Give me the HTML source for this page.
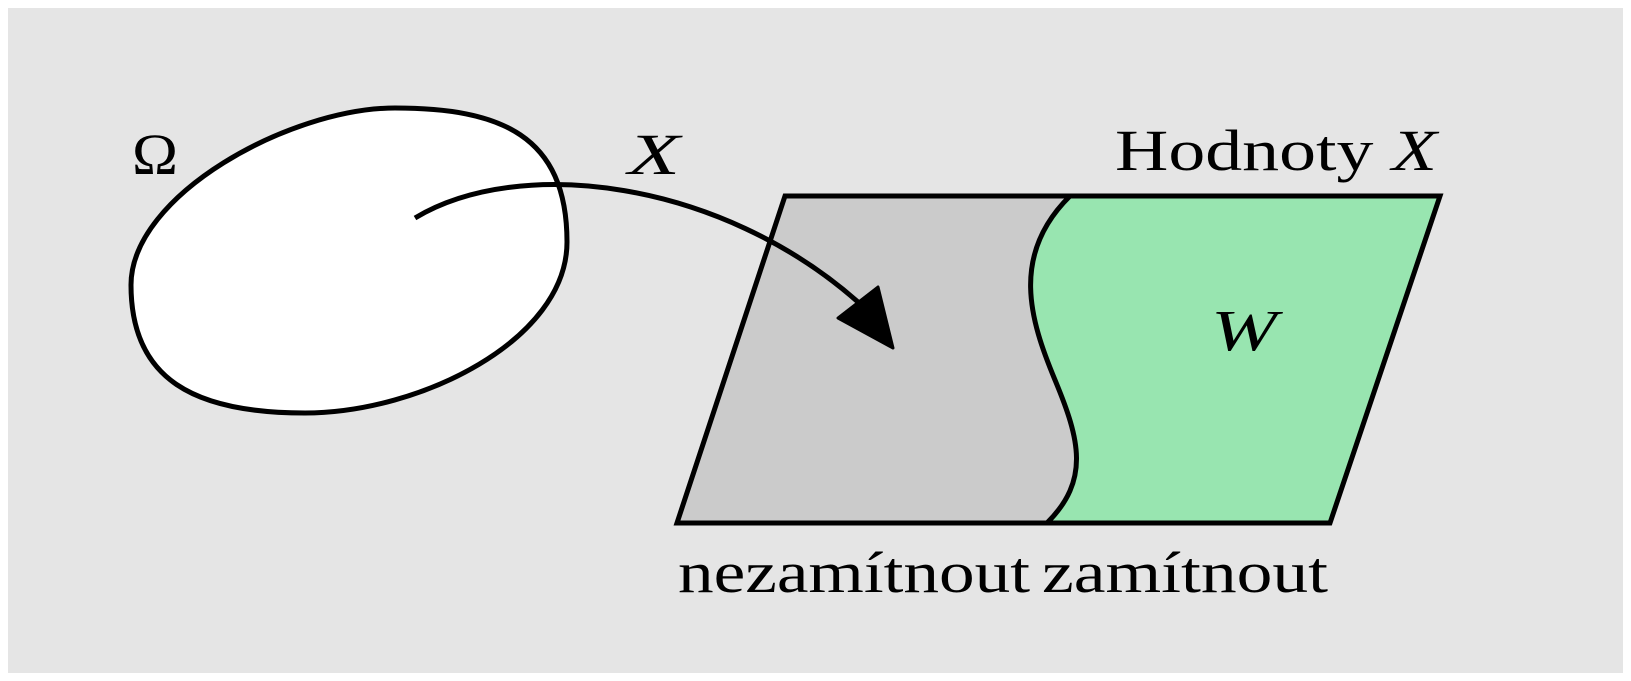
<!DOCTYPE html>
<html><head><meta charset="utf-8"><style>
html,body{margin:0;padding:0;background:#fff;}
svg{display:block}
text{font-family:"Liberation Serif",serif;fill:#000}
</style></head><body>
<svg width="1631" height="681" viewBox="0 0 1631 681">
<rect x="8" y="8" width="1615" height="665" fill="#e5e5e5"/>
<path d="M395,108 C500,108 567,135 567,242 C567,340 420,413 305,413 C195,413 131,380 131,285 C131,195 290,108 395,108 Z" fill="#fff" stroke="#000" stroke-width="5"/>
<path d="M785,196 L1440,196 L1330,523 L677,523 Z" fill="#cbcbcb"/>
<path d="M1070,196 L1440,196 L1330,523 L1047,523 C1090,480 1080,440 1055,380 C1030,320 1010,255 1070,196 Z" fill="#98e5b0"/>
<path d="M785,196 L1440,196 L1330,523 L677,523 Z" fill="none" stroke="#000" stroke-width="5"/>
<path d="M1070,196 C1010,255 1030,320 1055,380 C1080,440 1090,480 1047,523" fill="none" stroke="#000" stroke-width="5"/>
<path d="M415,218 C520,155 720,180 858,302" fill="none" stroke="#000" stroke-width="5"/>
<path d="M838,318 L878,287 L893,348 Z" fill="#000" stroke="#000" stroke-width="3" stroke-linejoin="round"/>
<text x="132" y="174" font-size="58" textLength="46" lengthAdjust="spacingAndGlyphs">Ω</text>
<text x="628" y="174" font-size="58" font-style="italic" textLength="52" lengthAdjust="spacingAndGlyphs">X</text>
<text x="1115" y="170" font-size="58" textLength="322" lengthAdjust="spacingAndGlyphs">Hodnoty <tspan font-style="italic">X</tspan></text>
<text x="1211" y="350" font-size="58" font-style="italic" textLength="66" lengthAdjust="spacingAndGlyphs">W</text>
<text x="678" y="592" font-size="58" textLength="352" lengthAdjust="spacingAndGlyphs">nezamítnout</text>
<text x="1042" y="592" font-size="58" textLength="286" lengthAdjust="spacingAndGlyphs">zamítnout</text>
</svg>
</body></html>
